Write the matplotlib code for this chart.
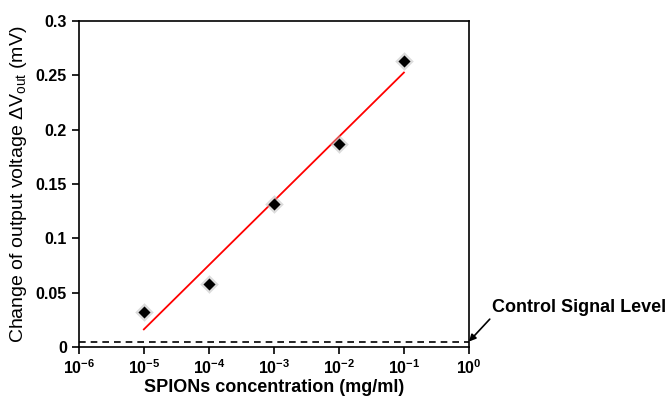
import numpy as np
import matplotlib
matplotlib.use("Agg")
import matplotlib.pyplot as plt

plt.rcParams['font.family'] = ['Liberation Sans', 'DejaVu Sans']
plt.rcParams['mathtext.fontset'] = 'custom'
plt.rcParams['mathtext.rm'] = 'Liberation Sans'
plt.rcParams['mathtext.bf'] = 'Liberation Sans:bold'
plt.rcParams['axes.unicode_minus'] = False

# data
concentration = [1e-5, 1e-4, 1e-3, 1e-2, 1e-1]
delta_v = [0.032, 0.058, 0.132, 0.187, 0.263]
control_level = 0.005

# linear fit in log10(concentration)
slope, icept = np.polyfit(np.log10(concentration), delta_v, 1)
fit_x = np.array([concentration[0], concentration[-1]])
fit_y = slope * np.log10(fit_x) + icept

fig = plt.figure(figsize=(6.68, 3.97), dpi=100)
ax = fig.add_axes([0.118, 0.126, 0.584, 0.821])

ax.plot(fit_x, fit_y, color="red", lw=1.3, zorder=2)
# soft grey halo under the markers
ax.scatter(concentration, delta_v, marker="D", s=90, color="#bbbbbb", alpha=0.5, zorder=3, linewidths=0)
ax.scatter(concentration, delta_v, marker="D", s=38, color="black", zorder=4, linewidths=0)
ax.axhline(control_level, color="black", lw=1.2, ls=(0, (4, 3)), zorder=1)

ax.set_xscale("log")
ax.set_xlim(1e-6, 1)
ax.set_ylim(0, 0.3)
ax.set_xticks([1e-6, 1e-5, 1e-4, 1e-3, 1e-2, 1e-1, 1])
ax.set_xticklabels([r"$\mathbf{10^{%d}}$" % e for e in range(-6, 1)])
ax.xaxis.set_minor_locator(matplotlib.ticker.NullLocator())
ax.set_yticks([0, 0.05, 0.1, 0.15, 0.2, 0.25, 0.3])
ax.set_yticklabels(["0", "0.05", "0.1", "0.15", "0.2", "0.25", "0.3"])
ax.tick_params(direction="out", length=5, width=1.2, labelsize=11.5, top=False, right=False)
for lab in ax.get_yticklabels():
    lab.set_fontweight("bold")
for sp in ax.spines.values():
    sp.set_linewidth(1.2)

ax.set_xlabel("SPIONs concentration (mg/ml)", fontsize=13, fontweight="bold", labelpad=1)
ax.set_ylabel(r"Change of output voltage $\Delta$V$_{\rm out}$ (mV)", fontsize=14, labelpad=5)

ax.annotate("Control Signal Level", xy=(1, control_level), xycoords="data",
            xytext=(1.06, 0.12), textcoords="axes fraction",
            fontsize=13, fontweight="bold", ha="left", va="center",
            annotation_clip=False,
            arrowprops=dict(arrowstyle="-|>", color="black", lw=1.2,
                            shrinkA=0, shrinkB=0, mutation_scale=10,
                            relpos=(0.0, 0.0)))

fig.savefig("out.png", dpi=100)
